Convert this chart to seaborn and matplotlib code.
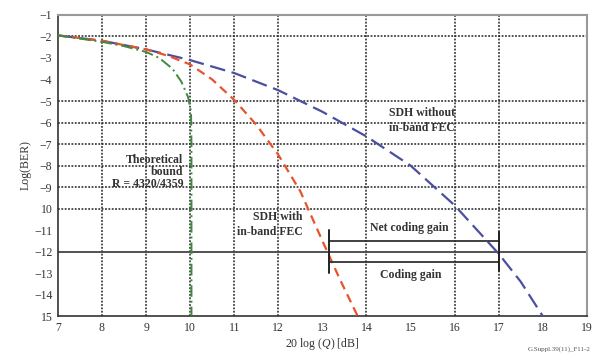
import numpy as np
import pandas as pd
import matplotlib.pyplot as plt
import seaborn as sns

# curves: x = 20 log(Q) [dB], y = log(BER)
bound_x = [7, 8, 8.5, 9, 9.3, 9.6, 9.8, 9.95, 10.02, 10.03, 10.03]
bound_y = [-1.95, -2.25, -2.45, -2.72, -3.0, -3.5, -4.1, -4.8, -5.5, -7.0, -15.0]

fec_x = [7, 8, 9, 9.5, 10, 10.5, 11, 11.5, 12, 12.5, 13, 13.4, 13.8]
fec_y = [-1.95, -2.2, -2.6, -2.9, -3.3, -4.0, -4.95, -6.1, -7.5, -9.2, -11.5, -13.3, -15.0]

nofec_x = [7, 8, 9, 10, 11, 12, 13, 14, 15, 16, 17, 17.5, 18]
nofec_y = [-1.95, -2.2, -2.6, -3.1, -3.7, -4.5, -5.5, -6.65, -8.0, -9.85, -12.1, -13.4, -15.0]

x_ticks = list(range(7, 20))
y_ticks = list(range(-15, 0))
y_tick_labels = ["15", "\u221214", "\u221213", "\u221212", "\u221211", "10", "\u22129", "\u22128",
                 "\u22127", "\u22126", "\u22125", "\u22124", "\u22123", "\u22122", "\u22121"]
grid_x = [8, 9, 10, 11, 12, 14, 16, 17]
grid_y = [-2, -5, -6, -7, -8, -9, -10]
ref_ber = -12
gain_start, gain_end = 13.15, 17.0
net_gain_y, coding_gain_y = -11.5, -12.5

sns.set_style("white")
plt.rcParams["font.family"] = ["Liberation Serif", "DejaVu Serif"]
plt.rcParams["mathtext.fontset"] = "custom"
plt.rcParams["mathtext.it"] = "Liberation Serif:italic"

fig = plt.figure(figsize=(5.97, 3.56), dpi=100)
ax = fig.add_axes([0.097, 0.112, 0.886, 0.846])

for gx in grid_x:
    ax.axvline(gx, color="#222222", lw=1.1, ls=(0, (1.2, 1.0)), zorder=1)
for gy in grid_y:
    ax.axhline(gy, color="#222222", lw=1.1, ls=(0, (1.2, 1.0)), zorder=1)
ax.axhline(ref_ber, color="#444444", lw=1.3, zorder=2)

sns.lineplot(x=nofec_x, y=nofec_y, ax=ax, color="#4b4f9e", lw=1.6,
             linestyle=(0, (7, 3)), estimator=None, sort=False, zorder=3)
sns.lineplot(x=fec_x, y=fec_y, ax=ax, color="#e9532b", lw=1.6,
             linestyle=(0, (4, 2.5)), estimator=None, sort=False, zorder=3)
sns.lineplot(x=bound_x, y=bound_y, ax=ax, color="#3f8a3f", lw=1.4,
             linestyle=(0, (6, 2, 1, 2)), estimator=None, sort=False, zorder=3)

# coding gain brackets
for gy in [net_gain_y, coding_gain_y]:
    ax.plot([gain_start, gain_end], [gy, gy], color="#333333", lw=1.3, zorder=4)
ax.plot([gain_start, gain_start], [-11.0, -13.0], color="#222222", lw=1.4, zorder=4)
ax.plot([gain_end, gain_end], [-11.1, -12.9], color="#222222", lw=1.4, zorder=4)

txt = dict(fontsize=8.5, color="#333333", fontweight="bold", zorder=5)
ax.text(15.25, -5.9, "SDH without\nin-band FEC", ha="center", va="center",
        linespacing=1.3, **txt)
ax.text(9.85, -8.3, "Theoretical\nbound\nR = 4320/4359", ha="right", va="center",
        linespacing=0.95, **txt)
ax.text(12.55, -10.75, "SDH with\nin-band FEC", ha="right", va="center",
        linespacing=1.3, **txt)
ax.text(14.98, -10.9, "Net coding gain", ha="center", va="center", **txt)
ax.text(15.0, -13.1, "Coding gain", ha="center", va="center", **txt)

ax.set_xlim(7, 19)
ax.set_ylim(-15, -1)
ax.set_xticks(x_ticks)
ax.set_yticks(y_ticks)
ax.set_yticklabels(y_tick_labels)
ax.tick_params(axis="both", direction="in", length=4, width=1, labelsize=8.5,
               colors="#333333", pad=4)
ax.set_xlabel(r"20 log ($\mathit{Q}$) [dB]", fontsize=8.5, color="#333333", labelpad=2)
ax.set_ylabel("Log(BER)", fontsize=8.5, color="#333333", labelpad=2)

for side in ["left", "bottom"]:
    ax.spines[side].set_color("#333333")
    ax.spines[side].set_linewidth(1.2)
for side in ["top", "right"]:
    ax.spines[side].set_color("#999999")
    ax.spines[side].set_linewidth(1.5)

fig.text(0.99, 0.01, "G.Suppl.39(11)_F11-2", ha="right", va="bottom",
         fontsize=5, color="#555555")

fig.savefig("out.png", dpi=100, facecolor="white")
